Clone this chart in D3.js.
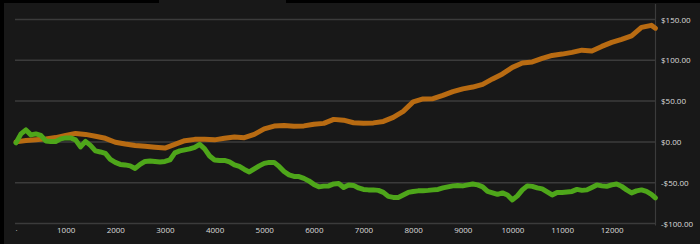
<!DOCTYPE html>
<html lang="en">

<head>
    <meta charset="UTF-8">
    <title>Cumulative P&amp;L</title>
    <style type="text/css">
        body {
            margin: 0;
            padding: 0;
            background-color: #000;
            font-family: "Open Sans", sans-serif;
        }

        .tick text {
            fill: #dcdcdc;
            font-family: "Open Sans", sans-serif;
            font-size: 8px;
        }
    </style>
</head>

<body>
    <script src="https://d3js.org/d3.v7.min.js"></script>
    <script type="text/javascript">
        var width = 700,
            height = 244;

        // orange series, one value every 200 steps
        var orangeStep = 200;
        var orangeValues = [0, 1.8, 2.7, 3.7, 5.3, 8.0, 10.4, 9.2, 6.9, 4.4,
            -0.4, -2.5, -4.3, -5.4, -6.6, -7.6, -3.1, 1.5, 3.1, 3.1,
            2.5, 4.5, 6.1, 5.1, 9.2, 15.9, 19.4, 20.2, 19.1, 19.6,
            21.7, 22.7, 27.6, 26.6, 23.5, 23.0, 23.3, 25.1, 30.0, 37.4,
            49.0, 52.7, 52.9, 57.0, 61.5, 65.0, 67.2, 70.5, 77.2, 83.3,
            91.3, 96.6, 98.0, 102.3, 106.0, 107.6, 109.7, 112.4, 111.5, 117.0,
            121.9, 125.6, 129.9, 140.3, 142.8];

        // green series, one value every 100 steps
        var greenStep = 100;
        var greenValues = [-1.2, 9.8, 14.7, 8.6, 9.8, 8.0, 1.2, 0.6, 0.6, 3.7,
            4.9, 4.9, 2.5, -6.1, 0.6, -4.3, -11.0, -12.3, -14.1, -21.4,
            -25.1, -27.6, -28.2, -29.4, -32.5, -27.6, -23.9, -23.3, -23.9, -24.5,
            -23.9, -22.1, -13.5, -11.0, -9.8, -8.6, -6.7, -3.1, -8.6, -17.2,
            -22.1, -22.7, -22.7, -24.5, -28.2, -30.0, -33.7, -36.8, -33.1, -29.4,
            -26.3, -25.1, -25.1, -30.0, -36.2, -40.4, -42.3, -42.5, -44.7, -47.8,
            -52.1, -55.1, -54.2, -53.9, -51.5, -50.9, -55.8, -52.7, -53.3, -56.4,
            -58.2, -58.8, -58.8, -59.4, -61.9, -66.8, -68.0, -68.0, -65.0, -61.9,
            -60.7, -60.0, -59.8, -59.4, -58.8, -58.2, -56.4, -55.1, -53.9, -53.3,
            -53.9, -52.7, -51.5, -52.7, -55.1, -60.7, -62.5, -64.3, -62.5, -65.0,
            -71.1, -66.2, -58.8, -53.9, -54.5, -56.4, -57.6, -61.3, -65.0, -61.9,
            -61.9, -61.3, -60.7, -58.2, -59.4, -58.8, -55.8, -52.7, -53.9, -54.5,
            -52.7, -51.5, -54.5, -58.8, -62.5, -60.0, -58.8, -60.7, -64.3];

        // last point of both series
        var lastStep = 12880;
        var orangeLast = 139.3;
        var greenLast = -68.6;

        var xTicks = [0, 1000, 2000, 3000, 4000, 5000, 6000, 7000, 8000, 9000, 10000, 11000, 12000];
        var yTicks = [-100, -50, 0, 50, 100, 150];

        function toPoints(values, step, last) {
            var pts = values.map(function (v, i) { return [i * step, v]; });
            pts.push([lastStep, last]);
            return pts;
        }

        var orangeData = toPoints(orangeValues, orangeStep, orangeLast);
        var greenData = toPoints(greenValues, greenStep, greenLast);

        var x = d3.scaleLinear().domain([0, lastStep]).range([16, 655.4]);
        var y = d3.scaleLinear().domain([-100, 150]).range([223.5, 19.5]);

        var svg = d3.select("body").append("svg")
            .attr("width", width)
            .attr("height", height)
            .style("display", "block");

        // dark panel (the black strip on top is part of the screenshot)
        svg.append("rect").attr("x", 4).attr("y", 3).attr("width", width - 4).attr("height", height - 3).attr("fill", "#181818");
        svg.append("rect").attr("x", 159).attr("y", 0).attr("width", 127).attr("height", 4).attr("fill", "#181818");

        // horizontal grid
        svg.append("g")
            .selectAll("line")
            .data(yTicks)
            .enter().append("line")
            .attr("x1", 15)
            .attr("x2", 655)
            .attr("y1", function (d) { return y(d); })
            .attr("y2", function (d) { return y(d); })
            .attr("stroke", "#3b3b3b")
            .attr("stroke-width", 1.5);

        // right axis line
        svg.append("line")
            .attr("x1", 655.5).attr("x2", 655.5)
            .attr("y1", 4).attr("y2", y(-100) + 2)
            .attr("stroke", "#3b3b3b")
            .attr("stroke-width", 1.2);

        var fmt = d3.format(",.2f");
        var yAxis = d3.axisRight(y)
            .tickValues(yTicks)
            .tickSize(0)
            .tickPadding(0)
            .tickFormat(function (d) { return (d < 0 ? "-$" : "$") + fmt(Math.abs(d)); });

        svg.append("g")
            .attr("transform", "translate(661,0)")
            .call(yAxis)
            .call(function (g) { g.select(".domain").remove(); });

        var xAxis = d3.axisBottom(x)
            .tickValues(xTicks)
            .tickSize(0)
            .tickPadding(0)
            .tickFormat(function (d) { return d === 0 ? "·" : d; });

        svg.append("g")
            .attr("transform", "translate(0,227)")
            .call(xAxis)
            .call(function (g) { g.select(".domain").remove(); });

        var line = d3.line()
            .x(function (d) { return x(d[0]); })
            .y(function (d) { return y(d[1]); });

        svg.append("path")
            .datum(orangeData)
            .attr("fill", "none")
            .attr("stroke", "#b86b12")
            .attr("stroke-width", 5)
            .attr("stroke-linejoin", "round")
            .attr("stroke-linecap", "round")
            .attr("d", line);

        svg.append("path")
            .datum(greenData)
            .attr("fill", "none")
            .attr("stroke", "#4ea61a")
            .attr("stroke-width", 5)
            .attr("stroke-linejoin", "round")
            .attr("stroke-linecap", "round")
            .attr("d", line);
    </script>
</body>

</html>
